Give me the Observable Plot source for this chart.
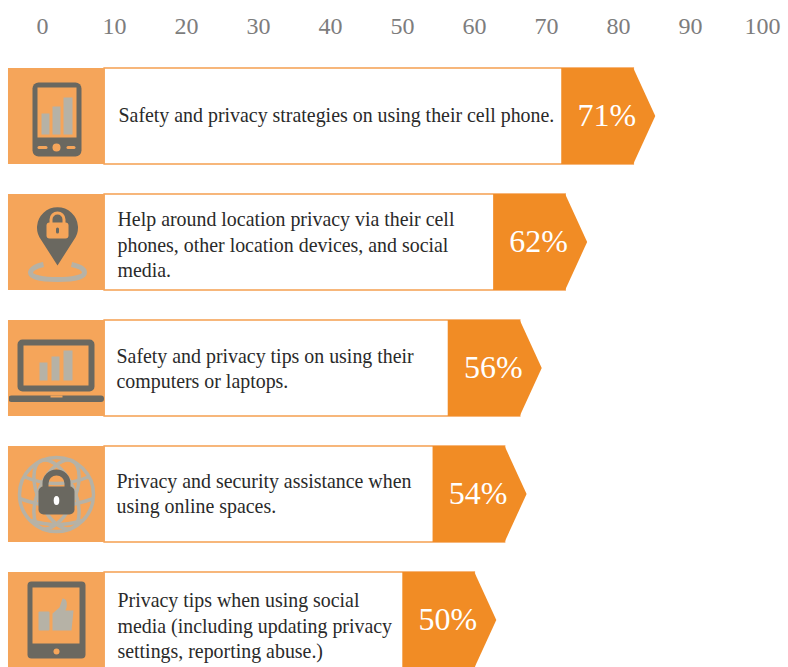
<!DOCTYPE html>
<html>
<head>
<meta charset="utf-8">
<script src="https://cdn.jsdelivr.net/npm/d3@7"></script>
<script src="https://cdn.jsdelivr.net/npm/@observablehq/plot@0.6"></script>
<style>
  html, body { margin: 0; padding: 0; background: #fff; overflow: hidden; }
  svg { display: block; max-width: none !important; }
</style>
</head>
<body>
<div id="chart"></div>
<script>
// Share of respondents asking for each kind of help
const topics = ["phone", "location", "computer", "online", "social"];
const shares = [71, 62, 56, 54, 50];
const descriptions = [
  "Safety and privacy strategies on using their cell phone.",
  "Help around location privacy via their cell\nphones, other location devices, and social\nmedia.",
  "Safety and privacy tips on using their\ncomputers or laptops.",
  "Privacy and security assistance when\nusing online spaces.",
  "Privacy tips when using social\nmedia (including updating privacy\nsettings, reporting abuse.)"
];
const axisTicks = [0, 10, 20, 30, 40, 50, 60, 70, 80, 90, 100];

const TILE = "#f5a55a", ORANGE = "#f18c25", DARK = "#6a6860", PALE = "#b6b2a6";
const SERIF = "'Liberation Serif', serif";

// Small typographic offsets for each description block
const textNudge = {
  phone: [0, -3], location: [-1, 1], computer: [-2, -1], online: [-2, -2], social: [-1, 4]
};

// Pictograms on a 96×96 tile
const glyphs = {
  phone: `<rect x="24" y="14" width="49" height="74" rx="6" fill="${DARK}"/>
    <rect x="29" y="19" width="39" height="50" fill="${TILE}"/>
    <rect x="33" y="45" width="8" height="21" fill="${PALE}"/>
    <rect x="44" y="38" width="8" height="28" fill="${PALE}"/>
    <rect x="55" y="29" width="9" height="37" fill="${PALE}"/>
    <circle cx="48" cy="79" r="4" fill="${TILE}"/>
    <rect x="29" y="77.5" width="10" height="3" rx="1.5" fill="${TILE}"/>
    <rect x="58" y="77.5" width="9" height="3" rx="1.5" fill="${TILE}"/>`,
  location: `<path d="M35 70 C25 72 22 76 22 78 C22 83 36 85 49 85 C62 85 76 83 76 78 C76 75 72 72 63 70" fill="none" stroke="${PALE}" stroke-width="5"/>
    <path d="M49 71 L33 46 A20.5 20.5 0 1 1 65 46 Z" fill="${DARK}"/>
    <path d="M42.5 29 V25 A6.5 6.5 0 0 1 55.5 25 V29" fill="none" stroke="${TILE}" stroke-width="3"/>
    <rect x="38" y="28" width="22" height="16" rx="3" fill="${TILE}"/>
    <rect x="47.5" y="33" width="3" height="6" rx="1.5" fill="${DARK}"/>`,
  computer: `<rect x="12" y="22" width="71" height="46" rx="2" fill="${TILE}" stroke="${DARK}" stroke-width="6"/>
    <rect x="31" y="42" width="8" height="18" fill="${PALE}"/>
    <rect x="43" y="36" width="8" height="24" fill="${PALE}"/>
    <rect x="55" y="30" width="9" height="30" fill="${PALE}"/>
    <rect x="0" y="75" width="95.5" height="6.5" rx="3" fill="${DARK}"/>
    <rect x="42" y="75" width="12" height="2" fill="${TILE}"/>`,
  online: `<g fill="none" stroke="${PALE}" stroke-width="3.5">
      <circle cx="48" cy="48" r="37"/>
      <ellipse cx="48" cy="48" rx="18" ry="37" transform="rotate(25 48 48)"/>
      <ellipse cx="48" cy="48" rx="18" ry="37" transform="rotate(-25 48 48)"/>
      <path d="M15 30 Q48 44 81 30 M11 52 Q48 66 85 52 M22 74 Q48 82 74 74"/>
    </g>
    <path d="M37 42 V37 A11 11 0 0 1 59 37 V42" fill="none" stroke="${DARK}" stroke-width="6"/>
    <rect x="30" y="40" width="36" height="28" rx="5" fill="${DARK}"/>
    <ellipse cx="48" cy="54" rx="2.8" ry="4.5" fill="#fff"/>`,
  social: `<rect x="19" y="9" width="58" height="77" rx="4" fill="${DARK}"/>
    <rect x="24" y="15" width="47" height="56" fill="${TILE}"/>
    <circle cx="48" cy="79" r="3" fill="${TILE}"/>
    <rect x="30" y="39" width="11" height="19" rx="1" fill="${PALE}"/>
    <path d="M44 41 L51 35 L54 26 C58 26 59 30 58 35 L57 38 H65 L63 58 H44 Z" fill="${PALE}"/>`
};
const iconUri = key =>
  "data:image/svg+xml," + encodeURIComponent(
    `<svg xmlns="http://www.w3.org/2000/svg" width="96" height="96" viewBox="0 0 96 96">${glyphs[key]}</svg>`);

const rows = topics.map((topic, i) => ({
  topic, share: shares[i], text: descriptions[i], icon: iconUri(topic)
}));

// Shared horizontal layout of a row, in pixels and in share units
const TILE_FROM = -11.6, TILE_TO = 1.1;
const CAP_BACK = 72, CAP_TIP = 22;

// Arrow-shaped cap ending each bar, anchored at the bar's share
function arrowCap(index, scales, values) {
  const g = d3.create("svg:g");
  const bw = scales.y.bandwidth;
  const h = typeof bw === "function" ? bw() : bw;
  for (const i of index) {
    const x = values.x2[i], top = values.y[i];
    g.append("path")
      .attr("fill", ORANGE)
      .attr("d", `M${x - CAP_BACK},${top}H${x}L${x + CAP_TIP},${top + h / 2}L${x},${top + h}H${x - CAP_BACK}Z`);
  }
  return g.node();
}

// Scale along the top of the page
const axisPlot = Plot.plot({
  width: 788,
  height: 50,
  margin: 0,
  x: {domain: [0, 100], range: [42, 762]},
  marks: [
    Plot.axisX({
      anchor: "top",
      ticks: axisTicks,
      tickSize: 0,
      tickPadding: 0,
      label: null,
      fontSize: 24,
      fontFamily: SERIF,
      color: "#7d7d7d",
      dy: 33
    })
  ]
});

// Bars
const barPlot = Plot.plot({
  width: 788,
  height: 617,
  margin: 0,
  style: {background: "transparent", overflow: "hidden"},
  x: {domain: [0, 100], range: [95.8, 852.8], axis: null},
  y: {domain: topics, range: [17, 619], paddingInner: 0.241, paddingOuter: 0, axis: null},
  marks: [
    Plot.barX(rows, {x1: () => TILE_TO, x2: "share", y: "topic", fill: "#fff", stroke: TILE, strokeWidth: 1.6}),
    Plot.barX(rows, {x1: () => TILE_FROM, x2: () => TILE_TO, y: "topic", fill: TILE}),
    Plot.barX(rows, {x1: () => 0, x2: "share", y: "topic", render: arrowCap}),
    Plot.image(rows, {frameAnchor: "left", dx: 56, y: "topic", src: "icon", width: 96, height: 96}),
    ...rows.map(row => Plot.text([row], {
      frameAnchor: "left", dx: 118 + textNudge[row.topic][0], dy: textNudge[row.topic][1],
      y: "topic", text: "text",
      textAnchor: "start", lineAnchor: "middle", lineHeight: 1.27,
      fontFamily: SERIF, fontSize: 19.9, fill: "#2a2a2a"
    })),
    Plot.text(rows, {
      x: "share", y: "topic", dx: -27, dy: -1, text: d => `${d.share}%`,
      fontFamily: SERIF, fontSize: 32, fill: "#fff"
    })
  ]
});

const host = document.getElementById("chart");
host.append(axisPlot, barPlot);
</script>
</body>
</html>
